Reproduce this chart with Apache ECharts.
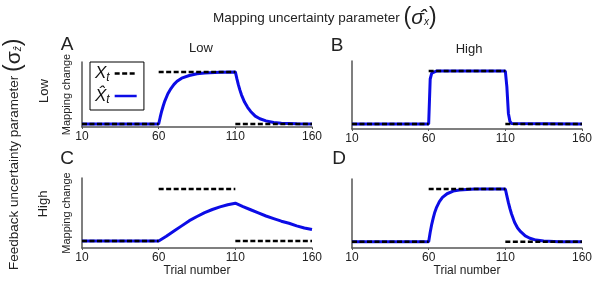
<!DOCTYPE html>
<html>
<head>
<meta charset="utf-8">
<script src="https://cdn.jsdelivr.net/npm/echarts@6/dist/echarts.min.js"></script>
<style>
  html, body { margin: 0; padding: 0; background: #fff; }
  #chart { width: 601px; height: 282px; }
</style>
</head>
<body>
<div id="chart"></div>
<script>
// tick labels / target steps (X_t)
var xTicks = [10, 60, 110, 160];
var stepEdges = [10, 60, 110, 160];
var stepLevels = [0, 1, 0];

// estimates (X hat)
var trialA = [10, 60, 61, 62, 63, 64, 66, 68, 70, 72, 75, 80, 85, 90, 100, 110, 111, 112, 113, 114, 116, 118, 120, 123, 126, 130, 135, 140, 150, 160];
var estA = [0, 0, 0.13, 0.25, 0.35, 0.44, 0.58, 0.68, 0.76, 0.82, 0.88, 0.93, 0.965, 0.98, 0.995, 1, 0.87, 0.75, 0.65, 0.56, 0.42, 0.32, 0.24, 0.15, 0.1, 0.06, 0.03, 0.015, 0.003, 0];

var trialB = [10, 60, 61, 62, 63, 65, 110, 111, 112, 113, 114, 115, 160];
var estB = [0, 0, 0.85, 0.96, 0.99, 1, 1, 0.7, 0.2, 0.05, 0.01, 0, 0];

var trialC = [10, 60, 65, 70, 75, 80, 85, 90, 95, 100, 105, 110, 115, 120, 125, 130, 135, 140, 145, 150, 155, 160];
var estC = [0, 0, 0.09, 0.19, 0.29, 0.39, 0.47, 0.545, 0.605, 0.655, 0.695, 0.725, 0.66, 0.6, 0.54, 0.48, 0.43, 0.38, 0.34, 0.29, 0.25, 0.22];

var trialD = [10, 60, 61, 62, 63, 64, 65, 67, 69, 72, 76, 80, 90, 110, 111, 112, 113, 114, 116, 118, 120, 123, 126, 130, 135, 145, 160];
var estD = [0, 0, 0.18, 0.33, 0.45, 0.56, 0.64, 0.76, 0.84, 0.91, 0.96, 0.98, 1, 1, 0.87, 0.74, 0.63, 0.53, 0.37, 0.26, 0.19, 0.11, 0.065, 0.03, 0.012, 0, 0];

var panels = [
  { trials: trialA, est: estA },
  { trials: trialB, est: estB },
  { trials: trialC, est: estC },
  { trials: trialD, est: estD }
];

var FONT = "'Liberation Sans', Arial, sans-serif";
var BLUE = "#0c0ce6";
var AXIS = "#555";
var DASH = [5, 2.5];

var chart = echarts.init(document.getElementById("chart"));

// grid layout for the 4 panels
var grids = [
  { left: 82, right: 289, top: 62, height: 65 },
  { left: 352, right: 19, top: 61, height: 68 },
  { left: 82, right: 289, top: 178, height: 70 },
  { left: 352, right: 19, top: 179, height: 69 }
];
var yRange = [[-0.058, 1.19], [-0.094, 1.19], [-0.135, 1.21], [-0.12, 1.19]];

var xAxes = [], yAxes = [], series = [];
grids.forEach(function (g, i) {
  g.containLabel = false;
  g.outerBoundsMode = "none";
  xAxes.push({
    type: "value",
    gridIndex: i,
    min: xTicks[0],
    max: xTicks[xTicks.length - 1],
    interval: xTicks[1] - xTicks[0],
    name: i >= 2 ? "Trial number" : "",
    nameLocation: "middle",
    nameGap: 15,
    nameTextStyle: { fontSize: 12, color: "#222", fontFamily: FONT },
    axisLine: { onZero: false, lineStyle: { color: AXIS, width: 1.5 } },
    axisTick: { show: true, length: 2, lineStyle: { color: AXIS } },
    axisLabel: { fontSize: 12, color: "#222", margin: 4, fontFamily: FONT },
    splitLine: { show: false }
  });
  yAxes.push({
    type: "value",
    gridIndex: i,
    min: yRange[i][0],
    max: yRange[i][1],
    name: i % 2 === 0 ? "Mapping change" : "",
    nameLocation: "middle",
    nameGap: 10,
    nameTextStyle: { fontSize: 11, color: "#222", fontFamily: FONT },
    axisLine: { show: true, onZero: false, lineStyle: { color: AXIS, width: 1.5 } },
    axisTick: { show: false },
    axisLabel: { show: false },
    splitLine: { show: false }
  });

  var p = panels[i];
  series.push({
    type: "line",
    name: "Xhat",
    xAxisIndex: i,
    yAxisIndex: i,
    data: p.trials.map(function (t, k) { return [t, p.est[k]]; }),
    symbol: "none",
    lineStyle: { color: BLUE, width: 3 },
    itemStyle: { color: BLUE },
    z: 2
  });
  for (var s = 0; s < stepLevels.length; s++) {
    series.push({
      type: "line",
      name: "X",
      xAxisIndex: i,
      yAxisIndex: i,
      data: [[stepEdges[s], stepLevels[s]], [stepEdges[s + 1], stepLevels[s]]],
      symbol: "none",
      lineStyle: { color: "#000", width: 2.5, type: DASH },
      itemStyle: { color: "#000" },
      z: 3
    });
  }
});

function txt(x, y, text, size, rot, extra) {
  var st = {
    text: text, x: 0, y: 0, fontSize: size, fontFamily: FONT, fill: "#222",
    align: "center", verticalAlign: "middle"
  };
  if (extra) for (var k in extra) st[k] = extra[k];
  return { type: "text", x: x, y: y, rotation: rot || 0, style: st, silent: true };
}

var richParen = {
  p: { fontSize: 23, fontFamily: FONT, fill: "#222" },
  s: { fontSize: 21, fontStyle: "italic", fontFamily: FONT, fill: "#222" },
  su: { fontSize: 21, fontFamily: FONT, fill: "#222" },
  sub: { fontSize: 10, fontStyle: "italic", fontFamily: FONT, fill: "#222", padding: [9, 0, 0, 0] }
};

var option = {
  animation: false,
  grid: grids,
  xAxis: xAxes,
  yAxis: yAxes,
  series: series,
  legend: {
    data: [
      { name: "X", lineStyle: { type: DASH, width: 2.5, color: "#000" } },
      { name: "Xhat", lineStyle: { width: 2.5, color: BLUE } }
    ],
    left: 90,
    top: 62,
    orient: "vertical",
    align: "right",
    itemWidth: 22,
    itemHeight: 16,
    itemGap: 4,
    padding: [3, 6, 4, 5],
    borderColor: "#000",
    borderWidth: 1,
    selectedMode: false,
    itemStyle: { opacity: 0 },
    formatter: function (name) {
      return name === "X" ? "{v|X}{sub|t}" : "{v|X\u0302}{sub|t}";
    },
    textStyle: {
      rich: {
        v: { fontSize: 17, fontStyle: "italic", fontFamily: FONT, color: "#111", lineHeight: 20 },
        sub: { fontSize: 12, fontStyle: "italic", fontFamily: FONT, color: "#111", lineHeight: 13, verticalAlign: "bottom" }
      }
    }
  },
  graphic: [
    txt(213, 18, "Mapping uncertainty parameter {p|(}{s|\u03C3\u0302}{sub|x}{p|)}", 13.5, 0, { align: "left", rich: richParen }),
    txt(14, 270, "Feedback uncertainty parameter {p|(}{su|\u03C3}{sub|z\u0302}{p|)}", 13.5, Math.PI / 2, { align: "left", rich: richParen }),
    txt(201, 48, "Low", 13),
    txt(469, 49, "High", 13),
    txt(44, 91, "Low", 13, Math.PI / 2),
    txt(43, 204, "High", 13, Math.PI / 2),
    txt(67, 45, "A", 19),
    txt(337, 46, "B", 19),
    txt(67, 159, "C", 19),
    txt(339, 159, "D", 19)
  ]
};

chart.setOption(option);
</script>
</body>
</html>
